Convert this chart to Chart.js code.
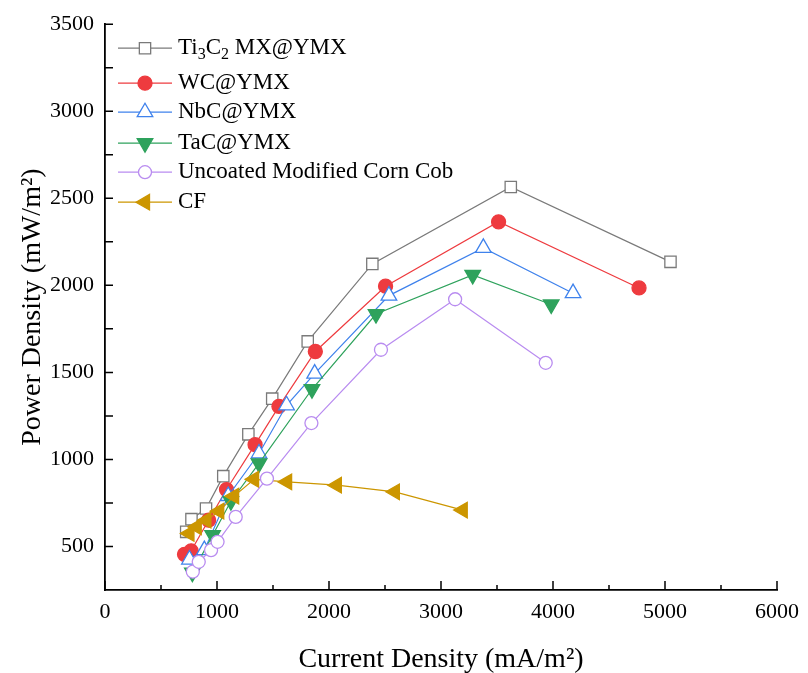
<!DOCTYPE html>
<html>
<head>
    <title>Power Density vs Current Density</title>
    <script src="https://cdn.jsdelivr.net/npm/chart.js"></script>
    <style>
        body {
            background-color: white;
            margin: 0;
        }
        canvas {
            display: block;
        }
    </style>
</head>
<body>
    <canvas id="powerChart" width="808" height="673"></canvas>

    <script>
        // values
        const tiX = [725, 772, 902, 1056, 1280, 1493, 1810, 2387, 3623, 5049];
        const tiY = [584, 657, 718, 904, 1144, 1349, 1678, 2123, 2565, 2135];

        const wcX = [710, 769, 925, 1085, 1340, 1553, 1878, 2505, 3514, 4768];
        const wcY = [455, 475, 651, 827, 1085, 1305, 1620, 1995, 2365, 1985];

        const nbX = [754, 887, 1100, 1375, 1621, 1872, 2535, 3378, 4179];
        const nbY = [425, 479, 790, 1034, 1311, 1493, 1941, 2215, 1955];

        const taX = [780, 961, 1124, 1375, 1848, 2420, 3283, 3984];
        const taY = [350, 565, 760, 977, 1403, 1835, 2060, 1890];

        const ucX = [784, 837, 947, 1005, 1167, 1446, 1843, 2464, 3126, 3935];
        const ucY = [355, 412, 479, 527, 670, 890, 1209, 1630, 1920, 1555];

        const cfX = [754, 819, 905, 1020, 1153, 1331, 1626, 2070, 2588, 3194];
        const cfY = [575, 613, 651, 703, 789, 886, 871, 852, 814, 709];

        const xTicks = [0, 1000, 2000, 3000, 4000, 5000, 6000];
        const yTicks = [500, 1000, 1500, 2000, 2500, 3000, 3500];

        const serif = "'Liberation Serif', 'Times New Roman', serif";

        const pts = (xs, ys) => xs.map((x, i) => ({ x: x, y: ys[i] }));

        // label pieces so the subscripts can be drawn
        const labels = [
            [{ t: 'Ti' }, { t: '3', sub: true }, { t: 'C' }, { t: '2', sub: true }, { t: ' MX@YMX' }],
            [{ t: 'WC@YMX' }],
            [{ t: 'NbC@YMX' }],
            [{ t: 'TaC@YMX' }],
            [{ t: 'Uncoated Modified Corn Cob' }],
            [{ t: 'CF' }]
        ];

        function series(name, data, color, style, radius, fill, rotation, order) {
            return {
                label: name,
                data: data,
                showLine: true,
                borderColor: color,
                borderWidth: 1.2,
                backgroundColor: fill,
                pointStyle: style,
                pointRadius: radius,
                pointHoverRadius: radius,
                pointBorderWidth: 1.3,
                pointRotation: rotation,
                order: order
            };
        }

        const datasets = [
            series('Ti3C2 MX@YMX', pts(tiX, tiY), '#7a7a7a', 'rect', 8, '#ffffff', 0, 6),
            series('WC@YMX', pts(wcX, wcY), '#ee3b3f', 'circle', 7, '#ee3b3f', 0, 5),
            series('NbC@YMX', pts(nbX, nbY), '#3f82ec', 'triangle', 9, '#ffffff', 0, 4),
            series('TaC@YMX', pts(taX, taY), '#2ea25c', 'triangle', 9, '#2ea25c', 180, 3),
            series('Uncoated Modified Corn Cob', pts(ucX, ucY), '#b98cf0', 'circle', 6.5, '#ffffff', 0, 1),
            series('CF', pts(cfX, cfY), '#cc9600', 'triangle', 9, '#cc9600', 270, 2)
        ];

        // inward ticks, like the original plot
        const innerTicks = {
            id: 'innerTicks',
            afterDraw(chart) {
                const ctx = chart.ctx;
                const xs = chart.scales.x, ys = chart.scales.y;
                ctx.save();
                ctx.strokeStyle = '#000';
                ctx.lineWidth = 1.5;
                ctx.beginPath();
                xs.ticks.forEach(t => {
                    const px = xs.getPixelForValue(t.value);
                    const len = t.value % 1000 === 0 ? 9 : 5;
                    ctx.moveTo(px, xs.top);
                    ctx.lineTo(px, xs.top - len);
                });
                ys.ticks.forEach(t => {
                    if (t.value === ys.min) return;
                    const py = ys.getPixelForValue(t.value);
                    ctx.moveTo(ys.right, py);
                    ctx.lineTo(ys.right + 8, py);
                });
                ctx.stroke();
                ctx.restore();
            }
        };

        const sideLegend = {
            id: 'sideLegend',
            afterDraw(chart) {
                const ctx = chart.ctx;
                const area = chart.chartArea;
                const x0 = area.left + 13;
                const rows = [24, 59, 88, 119, 148, 178];
                chart.data.datasets.forEach((ds, i) => {
                    const y = area.top + rows[i];
                    ctx.save();
                    ctx.strokeStyle = ds.borderColor;
                    ctx.lineWidth = 1.2;
                    ctx.beginPath();
                    ctx.moveTo(x0, y);
                    ctx.lineTo(x0 + 54, y);
                    ctx.stroke();
                    ctx.fillStyle = ds.backgroundColor;
                    ctx.lineWidth = ds.pointBorderWidth;
                    Chart.helpers.drawPoint(ctx, {
                        pointStyle: ds.pointStyle,
                        rotation: ds.pointRotation,
                        radius: ds.pointRadius,
                        borderWidth: ds.pointBorderWidth
                    }, x0 + 27, y);

                    ctx.fillStyle = '#000';
                    ctx.textBaseline = 'middle';
                    let tx = x0 + 60;
                    labels[i].forEach(p => {
                        ctx.font = (p.sub ? '16px ' : '23px ') + serif;
                        ctx.fillText(p.t, tx, p.sub ? y + 7 : y);
                        tx += ctx.measureText(p.t).width;
                    });
                    ctx.restore();
                });
            }
        };

        const ctx = document.getElementById('powerChart').getContext('2d');
        new Chart(ctx, {
            type: 'scatter',
            data: { datasets: datasets },
            options: {
                responsive: false,
                animation: false,
                layout: {
                    padding: { left: 0, top: 24, right: 27, bottom: 0 }
                },
                scales: {
                    x: {
                        type: 'linear',
                        min: 0,
                        max: 6000,
                        afterFit: s => { s.height = 83; },
                        grid: { display: true, drawOnChartArea: false, drawTicks: false },
                        border: { display: true, color: '#000', width: 1.8 },
                        ticks: {
                            stepSize: 500,
                            autoSkip: false,
                            maxRotation: 0,
                            padding: 9,
                            color: '#000',
                            font: { family: serif, size: 22 },
                            callback: v => xTicks.includes(v) ? String(v) : ''
                        },
                        title: {
                            display: true,
                            text: 'Current Density (mA/m\u00B2)',
                            color: '#000',
                            font: { family: serif, size: 28 },
                            padding: { top: 0, bottom: -3 }
                        }
                    },
                    y: {
                        type: 'linear',
                        min: 250,
                        max: 3500,
                        afterFit: s => { s.width = 105; },
                        grid: { display: true, drawOnChartArea: false, drawTicks: false },
                        border: { display: true, color: '#000', width: 1.8 },
                        ticks: {
                            stepSize: 250,
                            autoSkip: false,
                            padding: 11,
                            color: '#000',
                            font: { family: serif, size: 22 },
                            callback: v => yTicks.includes(v) ? String(v) : ''
                        },
                        title: {
                            display: true,
                            text: 'Power Density (mW/m\u00B2)',
                            color: '#000',
                            font: { family: serif, size: 28 },
                            padding: { top: 16, bottom: 0 }
                        }
                    }
                },
                plugins: {
                    legend: { display: false },
                    tooltip: { enabled: false }
                }
            },
            plugins: [innerTicks, sideLegend]
        });
    </script>
</body>
</html>
